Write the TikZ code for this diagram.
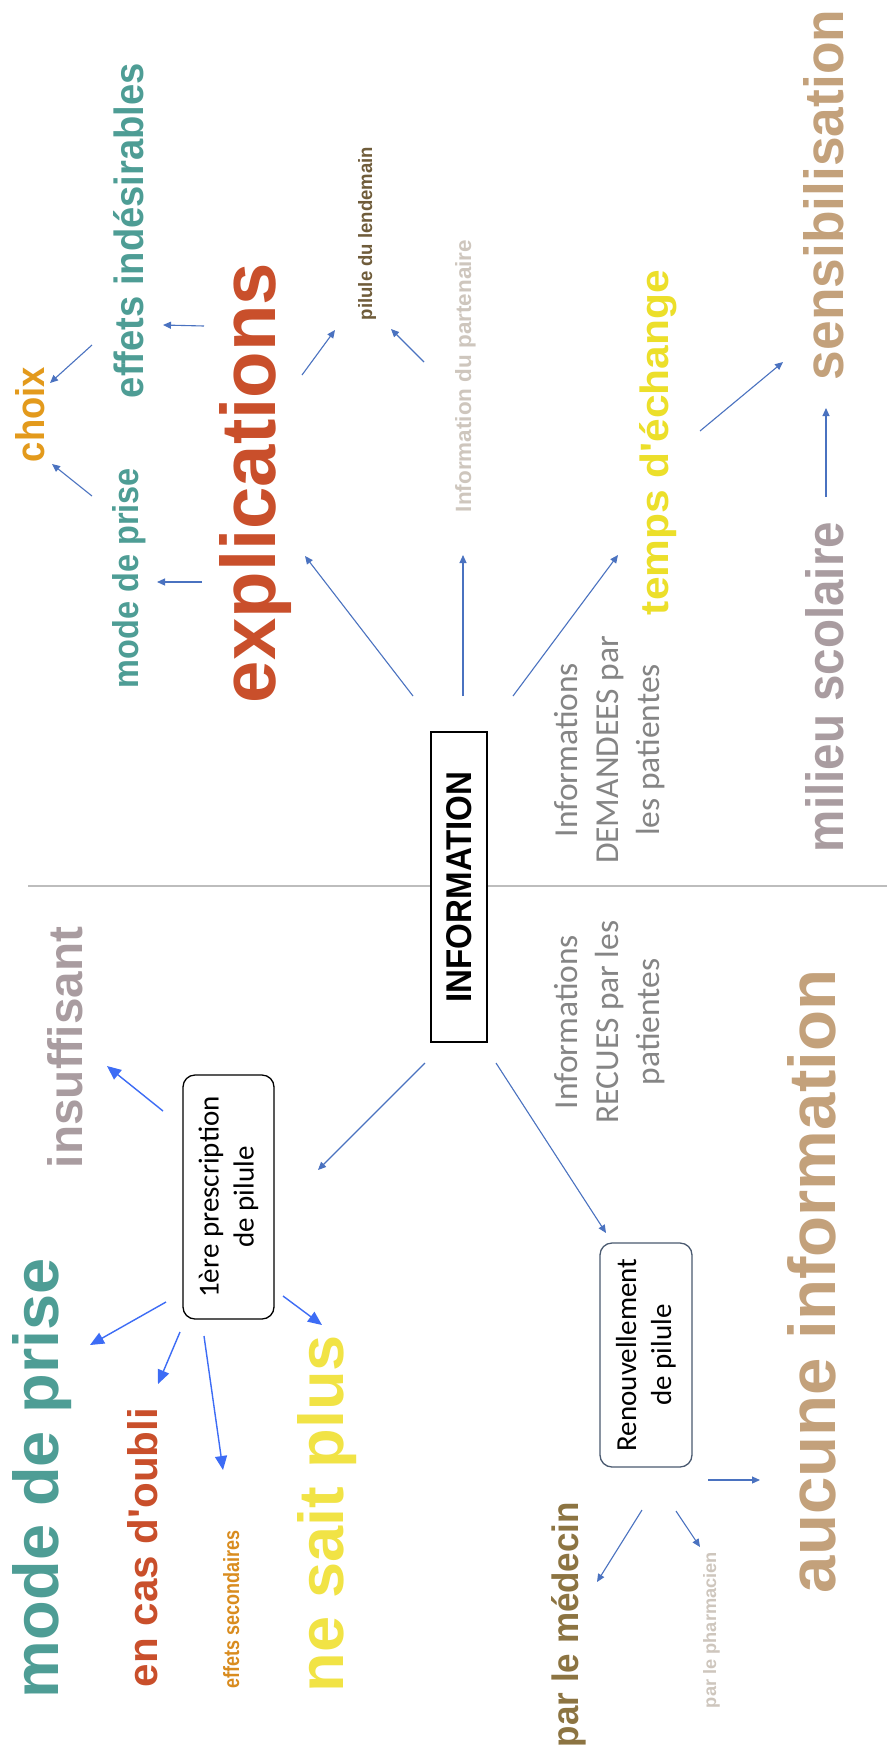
\documentclass[tikz,border=0pt]{standalone}
\usepackage{fontspec}
\setmainfont{Liberation Sans}
\newfontfamily\carlito{Carlito}
\usepackage{graphicx}
\usetikzlibrary{arrows.meta}
\definecolor{cTeal}{HTML}{4E9D95}
\definecolor{cRed}{HTML}{C94F2B}
\definecolor{cOrange}{HTML}{E39A1C}
\definecolor{cOrange2}{HTML}{D98C1F}
\definecolor{cYellow}{HTML}{ECDF2A}
\definecolor{cYellow2}{HTML}{F1E345}
\definecolor{cTan}{HTML}{C3A17B}
\definecolor{cMauve}{HTML}{A99CA0}
\definecolor{cLight}{HTML}{CEC6BD}
\definecolor{cOlive}{HTML}{6F5C3A}
\definecolor{cOlive2}{HTML}{8C7442}
\definecolor{cSteel}{HTML}{4A72C0}
\definecolor{cBright}{HTML}{3D6CF5}
\definecolor{cGrayT}{HTML}{858585}
\definecolor{cSep}{HTML}{BDBDBD}
\definecolor{cBoxB}{HTML}{4A5A70}
\tikzset{
  word/.style={rotate=90, anchor=base west, inner sep=0pt, outer sep=0pt},
  arrS/.style={draw=cSteel, line width=1.1pt, -{Triangle[length=8pt,width=7pt]}},
  arrB/.style={draw=cBright, line width=1.4pt, -{Triangle[length=14pt,width=12pt]}},
  rbox/.style={rotate=90, draw, fill=white, rounded corners=12pt, line width=1.3pt, align=center,
    font=\carlito\fontsize{29}{35}\selectfont, inner sep=0pt},
  lbl/.style={rotate=90, align=center, inner sep=0pt, text=cGrayT,
    font=\carlito\fontsize{33.5}{41}\selectfont},
  sepline/.style={draw=cSep, line width=1.4pt}
}
\newcommand{\wnode}[7]{\node[word, text=#6] (#1) at (#2,#3) {\resizebox{#4pt}{#5pt}{\bfseries #7}};}
\begin{document}
\begin{tikzpicture}[x=1pt,y=-1pt]
\fill[white] (0,0) rectangle (887,1754);
\useasboundingbox (0,0) rectangle (887,1754);

% separator
\coordinate (sepL) at (28,886);
\coordinate (sepR) at (887,886);
\draw[sepline] (sepL) -- (sepR);

% central box
\node[rotate=90, draw, fill=white, line width=1.8pt, minimum width=310pt, minimum height=56pt, inner sep=0pt]
  (info) at (459,887) {\resizebox{231pt}{25pt}{\bfseries INFORMATION}};

% rounded boxes
\node[rbox, minimum width=244pt, minimum height=91pt] (pres) at (228.5,1197) {1ère prescription\\de pilule};
\node[rbox, draw=cBoxB, minimum width=224pt, minimum height=92pt] (renou) at (646,1355) {Renouvellement\\de pilule};

% grey labels
\node[lbl] (dem) at (610,750) {Informations\\DEMANDEES par\\les patientes};
\node[lbl] (rec) at (610,1022) {Informations\\RECUES par les\\patientes};

% words (upper half)
\wnode{choix}{44}{462}{95}{29}{cOrange}{choix}
\wnode{mdp1}{138}{688}{220}{26}{cTeal}{mode de prise}
\wnode{effind}{143}{398}{335}{30}{cTeal}{effets indésirables}
\wnode{expl}{275}{703}{440}{56}{cRed}{explications}
\wnode{lend}{372}{320}{173}{14}{cOlive}{pilule du lendemain}
\wnode{part}{471}{512}{272}{16}{cLight}{Information du partenaire}
\wnode{temps}{668}{615}{345}{29}{cYellow}{temps d\textquotesingle échange}
\wnode{sens}{843}{380}{370}{40}{cTan}{sensibilisation}
\wnode{milieu}{843}{852}{330}{38}{cMauve}{milieu scolaire}

% words (lower half)
\wnode{insuf}{82}{1168}{241}{35}{cMauve}{insuffisant}
\wnode{mdp2}{58}{1698}{440}{46}{cTeal}{mode de prise}
\wnode{oubli}{157}{1687}{279}{30}{cRed}{en cas d\textquotesingle oubli}
\wnode{effsec}{239}{1688}{158}{16}{cOrange2}{effets secondaires}
\wnode{nesait}{343}{1692}{357}{46}{cYellow2}{ne sait plus}
\wnode{medecin}{578}{1747}{245}{27}{cOlive2}{par le médecin}
\wnode{pharma}{716}{1708}{156}{13}{cLight}{par le pharmacien}
\wnode{aucune}{835}{1593}{623}{48}{cTan}{aucune information}

% arrow end points
\coordinate (a1s) at (425,1063);  \coordinate (a1e) at (318,1170);
\coordinate (a2s) at (496,1063);  \coordinate (a2e) at (606,1233);
\coordinate (a3s) at (413,696);   \coordinate (a3e) at (305,556);
\coordinate (a4s) at (463,696);   \coordinate (a4e) at (463,555);
\coordinate (a5s) at (513,696);   \coordinate (a5e) at (618,555);
\coordinate (a6s) at (202,582);   \coordinate (a6e) at (157,582);
\coordinate (a7s) at (204,326);   \coordinate (a7e) at (163,325);
\coordinate (a8s) at (302,375);   \coordinate (a8e) at (335,330);
\coordinate (a9s) at (424,362);   \coordinate (a9e) at (391,329);
\coordinate (a10s) at (92,496);   \coordinate (a10e) at (52,464);
\coordinate (a11s) at (92,345);   \coordinate (a11e) at (50,383);
\coordinate (a12s) at (700,431);  \coordinate (a12e) at (783,362);
\coordinate (a13s) at (826,497);  \coordinate (a13e) at (826,408);
\coordinate (a14s) at (163,1111); \coordinate (a14e) at (107,1066);
\coordinate (a15s) at (166,1302); \coordinate (a15e) at (90,1345);
\coordinate (a16s) at (180,1332); \coordinate (a16e) at (158,1384);
\coordinate (a17s) at (204,1336); \coordinate (a17e) at (223,1470);
\coordinate (a18s) at (283,1296); \coordinate (a18e) at (322,1325);
\coordinate (a19s) at (642,1510); \coordinate (a19e) at (597,1582);
\coordinate (a20s) at (676,1511); \coordinate (a20e) at (700,1547);
\coordinate (a21s) at (708,1480); \coordinate (a21e) at (760,1480);

\draw[arrS] (a1s) -- (a1e);
\draw[arrS] (a2s) -- (a2e);
\draw[arrS] (a3s) -- (a3e);
\draw[arrS] (a4s) -- (a4e);
\draw[arrS] (a5s) -- (a5e);
\draw[arrS] (a6s) -- (a6e);
\draw[arrS] (a7s) -- (a7e);
\draw[arrS] (a8s) -- (a8e);
\draw[arrS] (a9s) -- (a9e);
\draw[arrS] (a10s) -- (a10e);
\draw[arrS] (a11s) -- (a11e);
\draw[arrS] (a12s) -- (a12e);
\draw[arrS] (a13s) -- (a13e);
\draw[arrB] (a14s) -- (a14e);
\draw[arrB] (a15s) -- (a15e);
\draw[arrB] (a16s) -- (a16e);
\draw[arrB] (a17s) -- (a17e);
\draw[arrB] (a18s) -- (a18e);
\draw[arrS] (a19s) -- (a19e);
\draw[arrS] (a20s) -- (a20e);
\draw[arrS] (a21s) -- (a21e);
\end{tikzpicture}
\end{document}
